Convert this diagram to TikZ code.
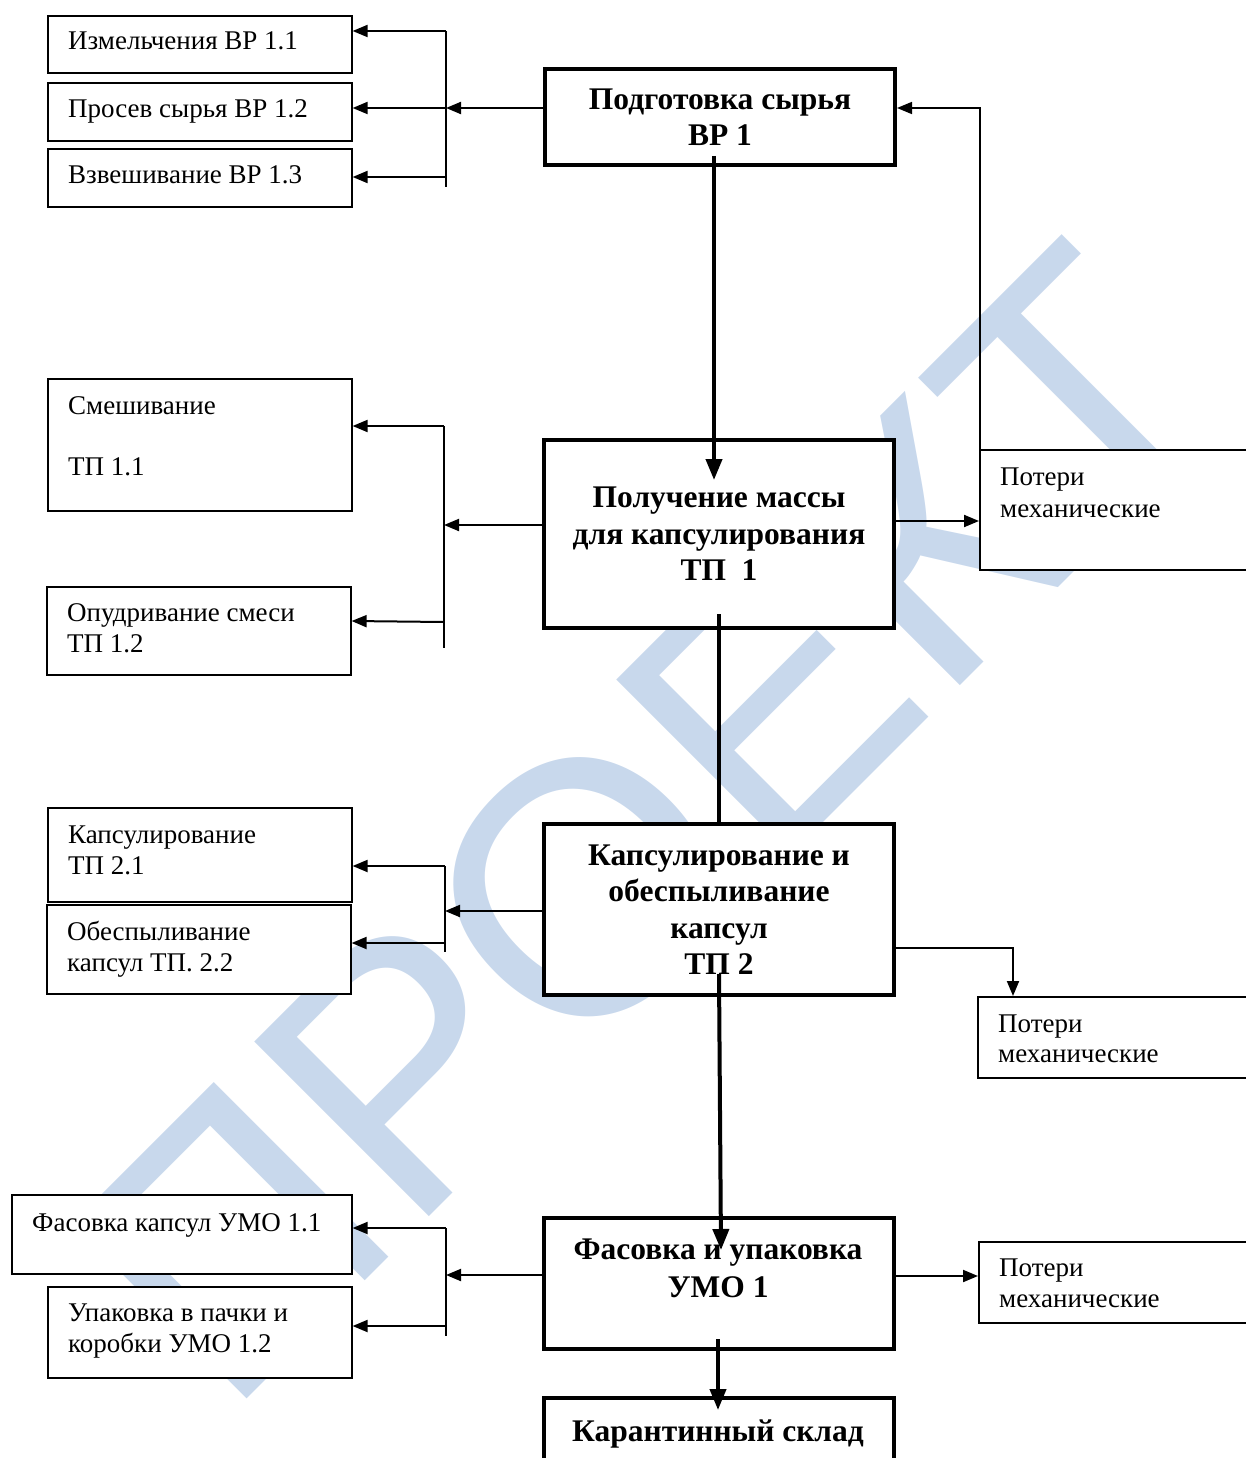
\documentclass[tikz,border=0pt]{standalone}
\usepackage{fontspec}
\setmainfont{Liberation Serif}
\newfontfamily\wmfont{Liberation Sans}
\usetikzlibrary{arrows.meta}
\definecolor{wmblue}{RGB}{200,216,236}
\begin{document}
\begin{tikzpicture}[x=1pt,y=-1pt,
  thinbox/.style={draw, fill=white, line width=1.6pt, inner sep=0pt, anchor=north west},
  thickbox/.style={draw, fill=white, line width=4pt, inner sep=0pt, anchor=north west, align=center, font=\fontsize{31.5}{36.5}\selectfont\bfseries},
  ptxt/.style={inner sep=0pt, anchor=base west, font=\fontsize{27}{32}\selectfont},
  btxt/.style={inner sep=0pt, anchor=base, font=\fontsize{31.5}{36.5}\selectfont\bfseries},
  arr/.style={line width=2pt, -{Triangle[length=15pt,width=12pt]}},
  ln/.style={line width=2pt},
  thickarr/.style={line width=4pt, -{Triangle[length=21pt,width=16pt]}},
  thickln/.style={line width=4pt},
]
\clip (0,0) rectangle (1246,1458);
% watermark
\node[rotate=45, anchor=base west, inner sep=0pt, text=wmblue, font=\wmfont\fontsize{359}{359}\selectfont] (wm) at (226,1420) {ПРОЕКТ};

% thin boxes left
\node[thinbox, minimum width=304pt, minimum height=57pt] (b11) at (47,15) {};
\node[thinbox, minimum width=304pt, minimum height=58pt] (b12) at (47,82) {};
\node[thinbox, minimum width=304pt, minimum height=58pt] (b13) at (47,148) {};
\node[thinbox, minimum width=304pt, minimum height=132pt] (t11) at (47,378) {};
\node[thinbox, minimum width=304pt, minimum height=88pt] (t12) at (46,586) {};
\node[thinbox, minimum width=304pt, minimum height=94pt] (t21) at (47,807) {};
\node[thinbox, minimum width=304pt, minimum height=89pt] (t22) at (46,904) {};
\node[thinbox, minimum width=340pt, minimum height=79pt] (u11) at (11,1194) {};
\node[thinbox, minimum width=304pt, minimum height=91pt] (u12) at (47,1286) {};
% losses boxes
\node[thinbox, minimum width=290pt, minimum height=120pt] (p1) at (979,449) {};
\node[thinbox, minimum width=290pt, minimum height=81pt] (p2) at (977,996) {};
\node[thinbox, minimum width=290pt, minimum height=81pt] (p3) at (978,1241) {};

% thick boxes
\node[thickbox, minimum width=350pt, minimum height=96pt] (A) at (543,67) {Подготовка сырья\\ВР 1};
\node[thickbox, minimum width=350pt, minimum height=188pt] (B) at (542,438) {Получение массы\\для капсулирования\\ТП\ \ 1};
\node[thickbox, minimum width=350pt, minimum height=171pt] (C) at (542,822) {Капсулирование и\\обеспыливание\\капсул\\ТП 2};
\node[thickbox, minimum width=350pt, minimum height=131pt] (D) at (542,1216) {};
\node[thickbox, minimum width=350pt, minimum height=100pt] (E) at (542,1396) {};
\node[btxt] (d1) at (718,1259) {Фасовка и упаковка};
\node[btxt] (d2) at (718,1297) {УМО 1};
\node[btxt] (e1) at (718,1441) {Карантинный склад};

% plain texts
\node[ptxt] (tb11) at (68,50) {Измельчения ВР 1.1};
\node[ptxt] (tb12) at (68,118) {Просев сырья ВР 1.2};
\node[ptxt] (tb13) at (68,184) {Взвешивание ВР 1.3};
\node[ptxt] (tt11a) at (68,414) {Смешивание};
\node[ptxt] (tt11b) at (68,475) {ТП 1.1};
\node[ptxt] (tt12a) at (67,621) {Опудривание смеси};
\node[ptxt] (tt12b) at (67,652) {ТП 1.2};
\node[ptxt] (tt21a) at (68,843) {Капсулирование};
\node[ptxt] (tt21b) at (68,874) {ТП 2.1};
\node[ptxt] (tt22a) at (67,940) {Обеспыливание};
\node[ptxt] (tt22b) at (67,971) {капсул ТП. 2.2};
\node[ptxt] (tu11) at (32,1231) {Фасовка капсул УМО 1.1};
\node[ptxt] (tu12a) at (68,1321) {Упаковка в пачки и};
\node[ptxt] (tu12b) at (68,1352) {коробки УМО 1.2};
\node[ptxt] (tp1a) at (1000,485) {Потери};
\node[ptxt] (tp1b) at (1000,517) {механические};
\node[ptxt] (tp2a) at (998,1032) {Потери};
\node[ptxt] (tp2b) at (998,1062) {механические};
\node[ptxt] (tp3a) at (999,1276) {Потери};
\node[ptxt] (tp3b) at (999,1307) {механические};

% ---- connectors VR1
\coordinate (brA) at (446,108);
\coordinate (brAt) at (446,31);
\coordinate (brAb) at (446,187);
\coordinate (brA3) at (446,177);
\draw[ln] (brAt) -- (brAb);
\draw[arr] (A.west |- brA) -- (brA);
\draw[arr] (brAt) -- (b11.east |- brAt);
\draw[arr] (brA) -- (b12.east |- brA);
\draw[arr] (brA3) -- (b13.east |- brA3);
\draw[thickarr] ([xshift=-6pt,yshift=11pt]A.south) -- ([xshift=-5pt,yshift=-42pt]B.north);
% feedback
\coordinate (fbb) at (980,500);
\coordinate (fbt) at (980,108);
\draw[arr, line width=1.6pt] (fbb) -- (fbt) -- (A.east |- fbt);

% ---- TP1
\coordinate (brB) at (444,525);
\coordinate (brBt) at (444,426);
\coordinate (brBb) at (444,648);
\coordinate (brB2) at (444,622);
\coordinate (yB) at (930,521);
\draw[ln] (brBt) -- (brBb);
\draw[arr] (B.west |- brB) -- (brB);
\draw[arr] (brBt) -- (t11.east |- brBt);
\draw[arr] (brB2) -- ([yshift=1pt]t12.east |- brB2);
\draw[arr] (B.east |- yB) -- (p1.west |- yB);
\draw[thickln] ([yshift=16pt]B.south) -- (C.north);

% ---- TP2
\coordinate (brC) at (445,911);
\coordinate (brCt) at (445,866);
\coordinate (brCb) at (445,952);
\coordinate (brC2) at (445,943);
\coordinate (cC) at (1013,948);
\draw[ln] (brCt) -- (brCb);
\draw[arr] (C.west |- brC) -- (brC);
\draw[arr] (brCt) -- (t21.east |- brCt);
\draw[arr] (brC2) -- (t22.east |- brC2);
\draw[arr] (C.east |- cC) -| (p2.north west -| cC);
\draw[thickarr] ([yshift=23pt]C.south) -- ([xshift=2pt,yshift=-34pt]D.north);

% ---- UMO1
\coordinate (brD) at (446,1275);
\coordinate (brDt) at (446,1228);
\coordinate (brDb) at (446,1336);
\coordinate (brD2) at (446,1326);
\coordinate (yD) at (930,1276);
\draw[ln] (brDt) -- (brDb);
\draw[arr] (D.west |- brD) -- (brD);
\draw[arr] (brDt) -- (u11.east |- brDt);
\draw[arr] (brD2) -- (u12.east |- brD2);
\draw[arr] (D.east |- yD) -- (p3.west |- yD);
\draw[thickarr] ([xshift=-1pt,yshift=12pt]D.south) -- ([xshift=-1pt,yshift=-14pt]E.north);
\end{tikzpicture}
\end{document}
